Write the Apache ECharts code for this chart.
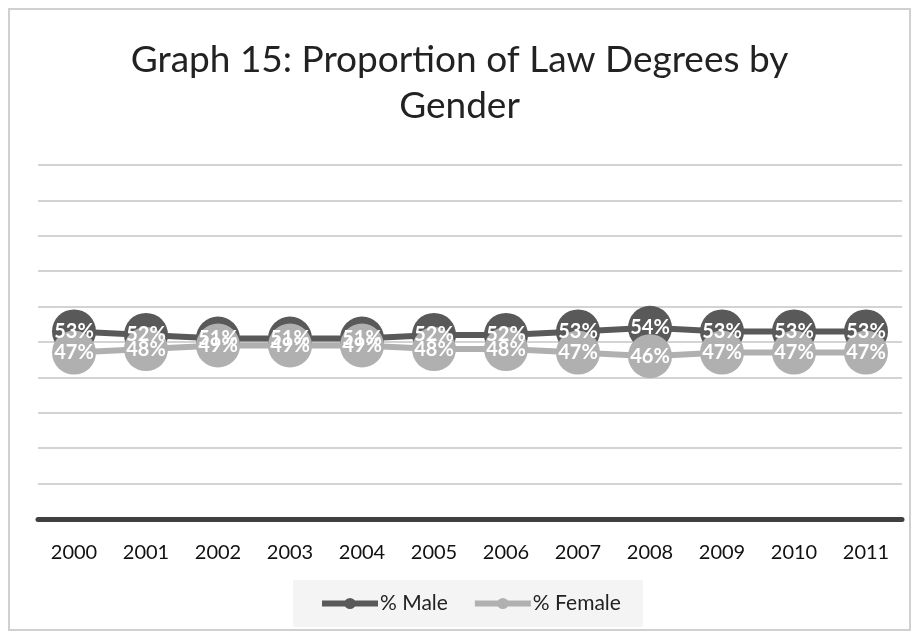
<!DOCTYPE html>
<html>
<head>
<meta charset="utf-8">
<script src="https://cdn.jsdelivr.net/npm/echarts@6/dist/echarts.min.js"></script>
<style>
  html, body { margin: 0; padding: 0; background: #fff; }
  #chart { width: 919px; height: 639px; box-sizing: border-box; }
  .frame { position: absolute; left: 8px; top: 8px; width: 903px; height: 623px; border: 2px solid #d0d0d0; box-sizing: border-box; pointer-events: none; }
</style>
</head>
<body>
<div id="chart"></div>
<div class="frame"></div>
<script>
const years = ['2000', '2001', '2002', '2003', '2004', '2005', '2006', '2007', '2008', '2009', '2010', '2011']
const male = [53, 52, 51, 51, 51, 52, 52, 53, 54, 53, 53, 53]
const female = [47, 48, 49, 49, 49, 48, 48, 47, 46, 47, 47, 47]

const FONT = 'Lato, "Open Sans", sans-serif'
const chart = echarts.init(document.getElementById('chart'), null, { renderer: 'canvas' })

function lineSeries(name, data, color) {
  return {
    name,
    type: 'line',
    data,
    symbol: 'circle',
    symbolSize: 44,
    lineStyle: { color, width: 6 },
    itemStyle: { color },
    label: {
      show: true,
      position: 'inside',
      formatter: '{c}%',
      color: '#fff',
      fontWeight: 'bold',
      fontSize: 20,
      fontFamily: FONT
    },
    emphasis: { disabled: true },
    animation: false
  }
}

const option = {
  backgroundColor: '#fff',
  title: {
    text: 'Graph 15: Proportion of Law Degrees by\nGender',
    left: 'center',
    top: 32,
    textStyle: { fontSize: 37, fontWeight: 'normal', color: '#222', lineHeight: 46, fontFamily: FONT }
  },
  legend: {
    bottom: 12,
    left: 293,
    backgroundColor: '#f4f4f4',
    padding: [13, 22, 13, 26],
    itemWidth: 56,
    itemHeight: 14,
    itemGap: 24,
    lineStyle: { width: 6 },
    textStyle: { fontSize: 21, color: '#222', fontFamily: FONT, padding: [0, 0, 0, -3] },
    data: ['% Male', '% Female']
  },
  grid: { left: 38, right: 17, top: 165, bottom: 120 },
  xAxis: {
    type: 'category',
    data: years,
    axisLine: { lineStyle: { color: '#404040', width: 5 } },
    axisTick: { show: false },
    axisLabel: { color: '#111', fontSize: 20, margin: 24, fontFamily: FONT }
  },
  yAxis: {
    type: 'value',
    min: 0,
    max: 100,
    interval: 10,
    axisLabel: { show: false },
    axisLine: { show: false },
    axisTick: { show: false },
    splitLine: { lineStyle: { color: '#d3d3d3', width: 2 } }
  },
  series: [
    lineSeries('% Male', male, '#595959'),
    lineSeries('% Female', female, '#b0b0b0')
  ]
}

chart.setOption(option)
</script>
</body>
</html>
